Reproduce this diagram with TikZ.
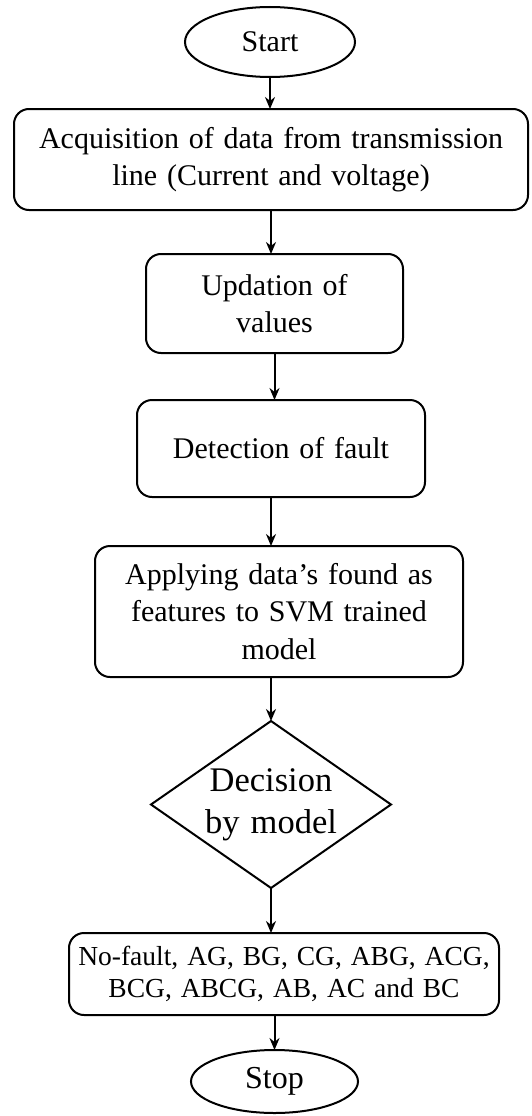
\documentclass[tikz,border=0pt]{standalone}
\usepackage{fontspec}
\setmainfont[WordSpace=1.3]{Liberation Serif}
\usetikzlibrary{shapes.geometric,arrows.meta}
\begin{document}
\begin{tikzpicture}[x=1pt,y=-1pt,
  every node/.style={inner sep=0pt,outer sep=0pt},
  term/.style={ellipse,draw,line width=2pt},
  procbox/.style={rectangle,rounded corners=15pt,draw,line width=2pt,align=center,font=\fontsize{30}{37.5}\selectfont},
  decbox/.style={diamond,draw,line width=2pt,align=center,font=\fontsize{34.5}{42}\selectfont},
  arr/.style={line width=2pt,-{Stealth[length=12pt,width=10pt]}}]
\useasboundingbox (0,0) rectangle (531,1116);
\node[term,minimum width=170pt,minimum height=70pt,font=\fontsize{30}{36}\selectfont] (start) at (270,42) {Start};
\node[procbox,minimum width=514pt,minimum height=101pt] (b1) at (271,159.5) {Acquisition of data from transmission\\line (Current and voltage)};
\node[procbox,minimum width=257pt,minimum height=99pt] (b2) at (274.5,303.5) {Updation of\\values};
\node[procbox,minimum width=288pt,minimum height=97pt] (b3) at (281,448.5) {Detection of fault};
\node[procbox,minimum width=368pt,minimum height=131pt] (b4) at (279,611.5) {Applying data’s found as\\features to SVM trained\\model};
\node[decbox,minimum width=240pt,minimum height=167pt,aspect=1.44] (d) at (271,804.5) {Decision\\by model};
\node[procbox,minimum width=430pt,minimum height=82pt,font=\fontsize{27.5}{32.5}\selectfont] (b5) at (284,974) {No-fault, AG, BG, CG, ABG, ACG,\\BCG, ABCG, AB, AC and BC};
\node[term,minimum width=167pt,minimum height=63pt,font=\fontsize{32}{38}\selectfont] (stop) at (274.5,1081.5) {Stop};
\draw[arr] (start.south) -- (start.south |- b1.north);
\draw[arr] (b1.south) -- (b1.south |- b2.north);
\draw[arr] (b2.south) -- (b2.south |- b3.north);
\draw[arr] (b3.south -| d.north) -- (d.north |- b4.north);
\draw[arr] (b4.south -| d.north) -- (d.north);
\draw[arr] (d.south) -- (d.south |- b5.north);
\draw[arr] (b5.south -| stop.north) -- (stop.north);
\end{tikzpicture}
\end{document}
